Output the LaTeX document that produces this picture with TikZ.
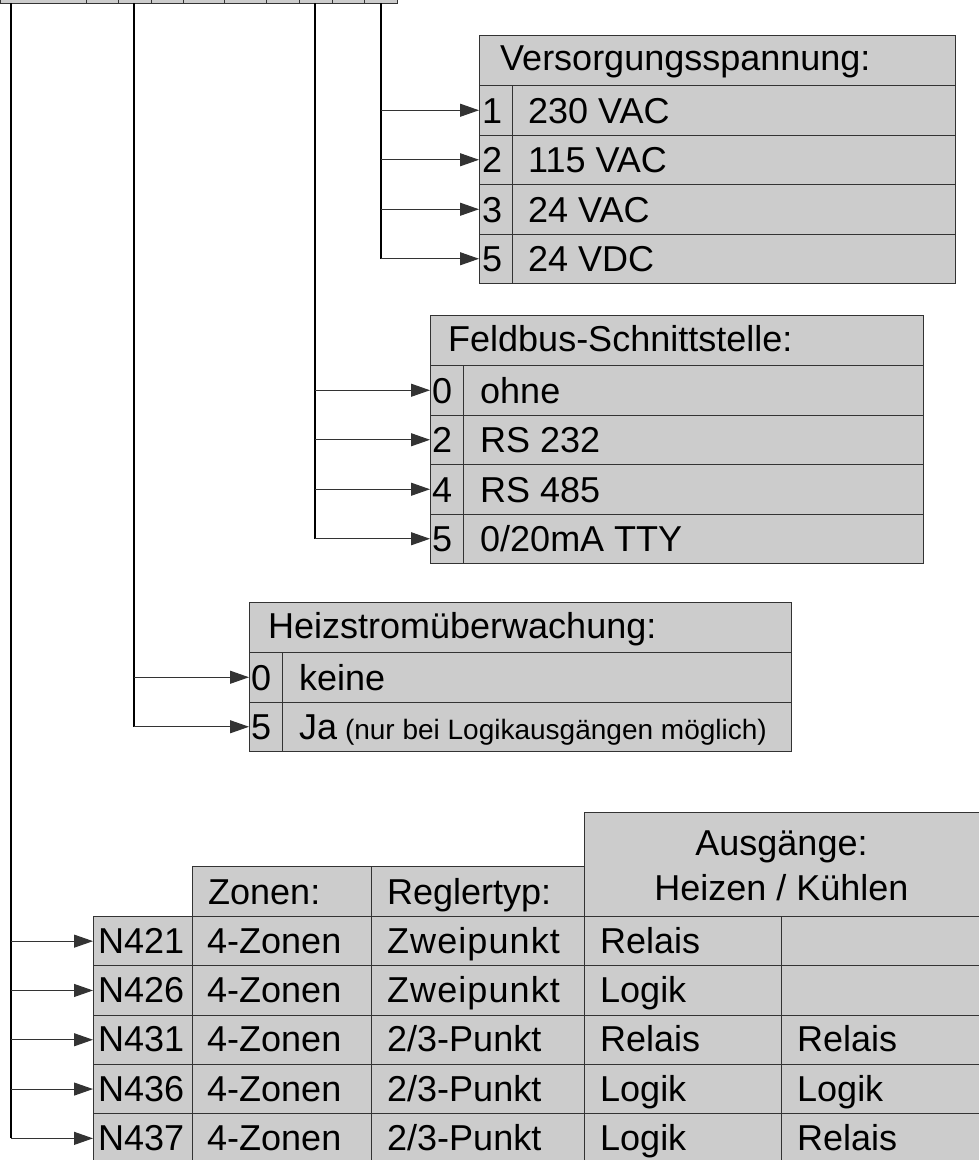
\documentclass[tikz,border=0pt]{standalone}
\usepackage{fontspec}
\setmainfont{Liberation Sans}
\usetikzlibrary{arrows.meta}
\definecolor{cellgray}{HTML}{CCCCCC}
\definecolor{edgec}{HTML}{333333}
\newcommand\bigfont{\fontsize{36}{40}\selectfont}
\newcommand\smallfont{\fontsize{28}{32}\selectfont}
\newcommand\wide[1]{{\addfontfeature{LetterSpace=3}#1}}
\begin{document}
\begin{tikzpicture}[x=1pt,y=-1pt,
  box/.style={draw=edgec, fill=cellgray, line width=1pt, anchor=north west, inner sep=0pt, minimum height=49.5pt},
  txt/.style={font=\bigfont, inner sep=0pt, anchor=base west},
  ctxt/.style={font=\bigfont, inner sep=0pt, anchor=base},
  trunk/.style={line width=1.6pt, black},
  branch/.style={line width=1.1pt, black!80, -{Triangle[length=19pt,width=13pt]}},
]
\useasboundingbox (0,0) rectangle (979,1160);
\clip (0,0) rectangle (979,1160);

% top strip (cut off)
\node[box, minimum width=397pt, minimum height=14pt] (strip) at (0,-11) {};
\foreach \x in {86,118,151,183,224,266,299,332,364}{
  \draw[draw=edgec, line width=1pt] (\x,-11) -- (\x,3);
}
\coordinate (tA) at (11,3);
\coordinate (tB) at (134,3);
\coordinate (tC) at (315,3);
\coordinate (tD) at (381,3);

% Versorgungsspannung
\node[box, minimum width=476pt, minimum height=50pt] (vh) at (479,35) {};
\node[txt] (vht) at ([shift={(21pt,-10pt)}]vh.west) {Versorgungsspannung:};
\foreach \i/\n/\t in {1/1/230 VAC,2/2/115 VAC,3/3/24 VAC,4/5/24 VDC}{
  \node[box, minimum width=33pt] (vn\i) at (479,{85+(\i-1)*49.5}) {};
  \node[txt] (vnn\i) at ([shift={(3pt,-13pt)}]vn\i.west) {\n};
  \node[box, minimum width=443pt] (vt\i) at (512,{85+(\i-1)*49.5}) {};
  \node[txt] (vtt\i) at ([shift={(16pt,-13pt)}]vt\i.west) {\t};
}
\draw[trunk] (tD) -- (tD |- vn4.west);
\foreach \i in {1,...,4}{\draw[branch] (tD |- vn\i.west) -- (vn\i.west);}

% Feldbus-Schnittstelle
\node[box, minimum width=493pt, minimum height=50pt] (fh) at (430,315) {};
\node[txt] (fht) at ([shift={(18pt,-11pt)}]fh.west) {Feldbus-Schnittstelle:};
\foreach \i/\n in {1/0,2/2,3/4,4/5}{
  \node[box, minimum width=33pt] (fn\i) at (430,{365+(\i-1)*49.5}) {};
  \node[txt] (fnn\i) at ([shift={(2pt,-13pt)}]fn\i.west) {\n};
  \node[box, minimum width=460pt] (ft\i) at (463,{365+(\i-1)*49.5}) {};
}
\node[txt] (ftt1) at ([shift={(17pt,-13pt)}]ft1.west) {ohne};
\node[txt] (ftt2) at ([shift={(17pt,-13pt)}]ft2.west) {RS 232};
\node[txt] (ftt3) at ([shift={(17pt,-13pt)}]ft3.west) {RS 485};
\node[txt] (ftt4) at ([shift={(17pt,-13pt)}]ft4.west) {0/20mA TTY};
\draw[trunk] (tC) -- (tC |- fn4.west);
\foreach \i in {1,...,4}{\draw[branch] (tC |- fn\i.west) -- (fn\i.west);}

% Heizstromueberwachung
\node[box, minimum width=542pt, minimum height=50pt] (hh) at (249,602) {};
\node[txt] (hht) at ([shift={(19pt,-11pt)}]hh.west) {Heizstromüberwachung:};
\node[box, minimum width=33pt] (hn1) at (249,652) {};
\node[txt] (hnn1) at ([shift={(2pt,-13pt)}]hn1.west) {0};
\node[box, minimum width=509pt] (ht1) at (282,652) {};
\node[txt] (htt1) at ([shift={(17pt,-13pt)}]ht1.west) {keine};
\node[box, minimum width=33pt] (hn2) at (249,701.5) {};
\node[txt] (hnn2) at ([shift={(2pt,-13pt)}]hn2.west) {5};
\node[box, minimum width=509pt] (ht2) at (282,701.5) {};
\node[txt] (htt2) at ([shift={(17pt,-13pt)}]ht2.west) {Ja{\smallfont\ (nur bei Logikausgängen möglich)}};
\draw[trunk] (tB) -- (tB |- hn2.west);
\foreach \i in {1,2}{\draw[branch] (tB |- hn\i.west) -- (hn\i.west);}

% Table
\node[box, minimum width=397pt, minimum height=104pt] (ah) at (584,812) {};
\node[ctxt] (aht1) at ([shift={(197.5pt,9pt)}]ah.west) {Ausgänge:};
\node[ctxt] (aht2) at ([shift={(197.5pt,-36pt)}]ah.west) {Heizen / Kühlen};
\node[box, minimum width=179pt, minimum height=50pt] (zh) at (192,866) {};
\node[txt] (zht) at ([shift={(16pt,-13pt)}]zh.west) {Zonen:};
\node[box, minimum width=213pt, minimum height=50pt] (rh) at (371,866) {};
\node[txt] (rht) at ([shift={(16pt,-13pt)}]rh.west) {Reglertyp:};
\foreach \i/\a/\b/\c/\d in {1/N421/\wide{Zweipunkt}/Relais/{},2/N426/\wide{Zweipunkt}/Logik/{},3/N431/2\slash 3-Punkt/Relais/Relais,4/N436/2\slash 3-Punkt/Logik/Logik,5/N437/2\slash 3-Punkt/Logik/Relais}{
  \node[box, minimum width=99pt, minimum height=49.3pt] (tn\i) at (93,{916+(\i-1)*49.3}) {};
  \node[txt] (tnt\i) at ([shift={(5pt,-12pt)}]tn\i.west) {\a};
  \node[box, minimum width=179pt, minimum height=49.3pt] (tz\i) at (192,{916+(\i-1)*49.3}) {};
  \node[txt] (tzt\i) at ([shift={(15pt,-12pt)}]tz\i.west) {4-Zonen};
  \node[box, minimum width=213pt, minimum height=49.3pt] (tr\i) at (371,{916+(\i-1)*49.3}) {};
  \node[txt] (trt\i) at ([shift={(16pt,-12pt)}]tr\i.west) {\b};
  \node[box, minimum width=197pt, minimum height=49.3pt] (ta\i) at (584,{916+(\i-1)*49.3}) {};
  \node[txt] (tat\i) at ([shift={(16pt,-12pt)}]ta\i.west) {\c};
  \node[box, minimum width=200pt, minimum height=49.3pt] (tb\i) at (781,{916+(\i-1)*49.3}) {};
  \node[txt] (tbt\i) at ([shift={(16pt,-12pt)}]tb\i.west) {\d};
}
\draw[trunk] (tA) -- (tA |- tn5.west);
\foreach \i in {1,...,5}{\draw[branch] (tA |- tn\i.west) -- (tn\i.west);}
\end{tikzpicture}
\end{document}
